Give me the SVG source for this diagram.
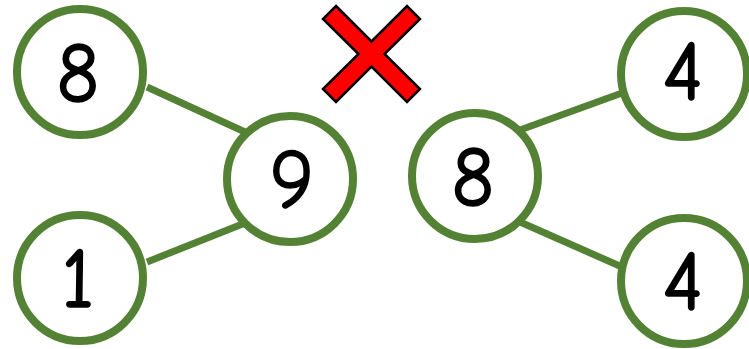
<svg xmlns="http://www.w3.org/2000/svg" width="749" height="349" viewBox="0 0 749 349">
<style>
.node circle{fill:#fff;stroke:#548235;stroke-width:8}
.node text{font-family:"Comic Neue","Liberation Sans","DejaVu Sans",sans-serif;font-size:84px;text-anchor:middle;fill:#000;stroke:#000;stroke-width:1.5}
.edge{stroke:#548235;stroke-width:7;fill:none}
</style>
<rect width="749" height="349" fill="#fff"/>
<g id="connectors">
<line class="edge" x1="147" y1="87" x2="245" y2="132"/>
<line class="edge" x1="147" y1="262" x2="245" y2="223"/>
<line class="edge" x1="520" y1="130" x2="622" y2="93"/>
<line class="edge" x1="520" y1="222" x2="622" y2="267"/>
</g>
<g id="n8a" class="node"><circle cx="80" cy="72" r="63"/><text x="78" y="102">8</text></g>
<g id="n1" class="node"><circle cx="80" cy="278" r="63"/><text x="78" y="307">1</text></g>
<g id="n9" class="node"><circle cx="290" cy="179" r="63"/><text x="292" y="208">9</text></g>
<g id="n8b" class="node"><circle cx="475" cy="176" r="63"/><text x="473" y="206">8</text></g>
<g id="n4a" class="node"><circle cx="684" cy="74" r="63"/><text x="683" y="100">4</text></g>
<g id="n4b" class="node"><circle cx="684" cy="281" r="63"/><text x="683" y="310">4</text></g>
<g id="cross">
<polygon points="336,6 371.5,41.5 407,6 420,19 384.5,54 420,89 407,102 371.5,66.5 336,102 323,89 358.5,54 323,19" fill="#ff0000" stroke="#000" stroke-width="2.5" stroke-linejoin="miter"/>
</g>
</svg>
